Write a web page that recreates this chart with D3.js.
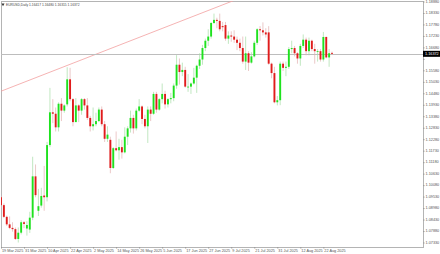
<!doctype html>
<html lang="en">
<head>
<meta charset="utf-8">
<script src="https://d3js.org/d3.v7.min.js"></script>
<style>
    body { margin: 0; background: #fff; }
    svg { display: block; }
    text { font-family: "Liberation Sans", Arial, sans-serif; }
</style>
</head>
<body>
<div id="chart"></div>
<script>
    // daily candles, 19 Mar 2025 .. 27 Aug 2025
    var opens = [1.0950,1.0912,1.0856,1.0820,1.0803,1.0797,1.0750,1.0780,1.0830,1.0800,
        1.0795,1.0852,1.1050,1.0885,1.0910,1.0958,1.0950,1.1200,1.1357,1.1350,
        1.1285,1.1398,1.1365,1.1395,1.1515,1.1420,1.1310,1.1390,1.1365,1.1420,
        1.1390,1.1330,1.1290,1.1300,1.1315,1.1370,1.1300,1.1230,1.1225,1.1090,
        1.1185,1.1175,1.1190,1.1165,1.1240,1.1280,1.1330,1.1280,1.1365,1.1385,
        1.1325,1.1290,1.1370,1.1350,1.1445,1.1370,1.1420,1.1445,1.1395,1.1420,
        1.1425,1.1485,1.1585,1.1550,1.1560,1.1480,1.1480,1.1495,1.1523,1.1580,
        1.1610,1.1665,1.1700,1.1720,1.1785,1.1800,1.1795,1.1770,1.1775,1.1710,
        1.1725,1.1720,1.1705,1.1690,1.1665,1.1600,1.1640,1.1595,1.1625,1.1690,
        1.1755,1.1750,1.1740,1.1740,1.1590,1.1545,1.1405,1.1415,1.1590,1.1570,
        1.1575,1.1660,1.1665,1.1640,1.1615,1.1675,1.1705,1.1650,1.1700,1.1660,
        1.1650,1.1650,1.1610,1.1718,1.1620,1.16417];
    var highs = [1.0958,1.0920,1.0862,1.0858,1.0830,1.0805,1.0805,1.0840,1.0836,1.0835,
        1.0880,1.1144,1.1107,1.0990,1.0995,1.1100,1.1215,1.1474,1.1420,1.1380,
        1.1405,1.1425,1.1395,1.1573,1.1570,1.1425,1.1425,1.1395,1.1425,1.1425,
        1.1425,1.1340,1.1380,1.1355,1.1380,1.1385,1.1315,1.1290,1.1240,1.1190,
        1.1265,1.1230,1.1225,1.1285,1.1290,1.1365,1.1345,1.1375,1.1420,1.1390,
        1.1345,1.1385,1.1385,1.1455,1.1455,1.1425,1.1495,1.1460,1.1425,1.1450,
        1.1495,1.1631,1.1615,1.1595,1.1575,1.1540,1.1500,1.1570,1.1585,1.1640,
        1.1680,1.1710,1.1755,1.1790,1.1830,1.1810,1.1830,1.1790,1.1790,1.1745,
        1.1745,1.1750,1.1720,1.1710,1.1720,1.1720,1.1650,1.1645,1.1700,1.1760,
        1.1770,1.1788,1.1760,1.1770,1.1595,1.1575,1.1435,1.1600,1.1600,1.1600,
        1.1670,1.1700,1.1675,1.1645,1.1685,1.1730,1.1715,1.1715,1.1705,1.1685,
        1.1660,1.1660,1.1742,1.1720,1.1660,1.16480];
    var lows = [1.0898,1.0850,1.0812,1.0797,1.0785,1.0745,1.0733,1.0772,1.0802,1.0766,
        1.0779,1.0840,1.0950,1.0860,1.0900,1.0885,1.0930,1.1190,1.1305,1.1265,
        1.1265,1.1315,1.1355,1.1385,1.1410,1.1290,1.1310,1.1310,1.1345,1.1370,
        1.1320,1.1265,1.1270,1.1290,1.1310,1.1290,1.1215,1.1215,1.1065,1.1085,
        1.1170,1.1130,1.1135,1.1160,1.1200,1.1260,1.1255,1.1270,1.1360,1.1300,
        1.1280,1.1210,1.1315,1.1345,1.1355,1.1365,1.1400,1.1375,1.1380,1.1400,
        1.1410,1.1470,1.1490,1.1530,1.1475,1.1455,1.1445,1.1490,1.1450,1.1565,
        1.1585,1.1650,1.1675,1.1710,1.1780,1.1760,1.1745,1.1745,1.1700,1.1685,
        1.1695,1.1690,1.1655,1.1650,1.1590,1.1560,1.1555,1.1590,1.1620,1.1680,
        1.1700,1.1725,1.1715,1.1585,1.1520,1.1400,1.1390,1.1391,1.1555,1.1530,
        1.1565,1.1640,1.1625,1.1590,1.1580,1.1665,1.1630,1.1630,1.1650,1.1590,
        1.1600,1.1600,1.1600,1.1615,1.1575,1.16315];
    var closes = [1.0912,1.0856,1.0820,1.0803,1.0797,1.0750,1.0780,1.0830,1.0822,1.0817,
        1.0852,1.1050,1.0960,1.0907,1.0956,1.0950,1.1200,1.1357,1.1350,1.1285,
        1.1398,1.1365,1.1390,1.1515,1.1420,1.1310,1.1390,1.1365,1.1420,1.1390,
        1.1330,1.1290,1.1300,1.1315,1.1370,1.1300,1.1230,1.1250,1.1090,1.1185,
        1.1175,1.1190,1.1165,1.1240,1.1280,1.1330,1.1280,1.1365,1.1385,1.1325,
        1.1290,1.1370,1.1350,1.1445,1.1370,1.1420,1.1445,1.1395,1.1420,1.1425,
        1.1485,1.1585,1.1550,1.1560,1.1480,1.1480,1.1495,1.1523,1.1580,1.1610,
        1.1665,1.1700,1.1720,1.1785,1.1800,1.1795,1.1755,1.1765,1.1710,1.1725,
        1.1720,1.1705,1.1690,1.1665,1.1600,1.1640,1.1595,1.1625,1.1690,1.1755,
        1.1750,1.1740,1.1730,1.1590,1.1545,1.1405,1.1415,1.1590,1.1570,1.1575,
        1.1660,1.1665,1.1640,1.1615,1.1675,1.1705,1.1650,1.1700,1.1660,1.1650,
        1.1650,1.1610,1.1718,1.1620,1.1640,1.16372];

    var xLabels = ["19 Mar 2025","31 Mar 2025","10 Apr 2025","22 Apr 2025","2 May 2025",
        "14 May 2025","26 May 2025","5 Jun 2025","17 Jun 2025","27 Jun 2025","9 Jul 2025",
        "21 Jul 2025","31 Jul 2025","12 Aug 2025","22 Aug 2025"];
    var labelEvery = 8;
    var yTicks = [1.18880,1.18330,1.17780,1.17230,1.16680,1.16130,1.15580,1.15030,1.14480,
        1.13930,1.13380,1.12830,1.12280,1.11730,1.11180,1.10630,1.10080,1.09530,1.08980,
        1.08430,1.07880,1.07330];
    var header = "EURUSD,Daily  1.16417 1.16480 1.16315 1.16372";
    // trend line anchors (bar index, price)
    var trendBars = [0, 80];
    var trendPrices = [1.1458, 1.1888];

    var W = 440, H = 254;
    var plot = { left: 1, right: 423, top: 1, bottom: 247 };
    var FS = 0.38; // tiny screen font: draw at 10px and scale down

    var svg = d3.select("#chart").append("svg")
        .attr("width", W).attr("height", H);

    function label(parent, px, py, str, fill, size) {
        return parent.append("text")
            .attr("transform", "translate(" + px + "," + py + ") scale(" + (size || FS) + ")")
            .attr("font-size", 10)
            .attr("fill", fill)
            .text(str);
    }

    var x = d3.scaleLinear()
        .domain([0, closes.length - 1])
        .range([1, 332]);
    var y = d3.scaleLinear()
        .domain([yTicks[yTicks.length - 1], yTicks[0]])
        .range([242.5, 1.5]);

    svg.append("defs").append("clipPath").attr("id", "clip")
        .append("rect")
        .attr("x", plot.left).attr("y", plot.top)
        .attr("width", plot.right - plot.left).attr("height", plot.bottom - plot.top);

    // frame
    svg.append("rect")
        .attr("x", plot.left + 0.5).attr("y", plot.top + 0.5)
        .attr("width", plot.right - plot.left).attr("height", plot.bottom - plot.top)
        .attr("fill", "none").attr("stroke", "#b4b4b4").attr("stroke-width", 1);

    var g = svg.append("g").attr("clip-path", "url(#clip)");

    // trend line, extended like a ray
    var slope = (trendPrices[1] - trendPrices[0]) / (trendBars[1] - trendBars[0]);
    var tl = [-5, 140].map(function (b) { return [b, trendPrices[0] + (b - trendBars[0]) * slope]; });
    g.append("path")
        .datum(tl)
        .attr("fill", "none")
        .attr("stroke", "#f2a0a0")
        .attr("stroke-width", 0.8)
        .attr("d", d3.line().x(function (d) { return x(d[0]); }).y(function (d) { return y(d[1]); }));

    // current price line
    var last = closes[closes.length - 1];
    g.append("line")
        .attr("x1", plot.left).attr("x2", plot.right)
        .attr("y1", Math.round(y(last)) + 0.5).attr("y2", Math.round(y(last)) + 0.5)
        .attr("stroke", "#bdbdbd").attr("stroke-width", 1);

    var bars = d3.range(closes.length).map(function (i) {
        return { i: i, o: opens[i], h: highs[i], l: lows[i], c: closes[i] };
    });
    var up = "#1ee21e", down = "#e01c1c";

    g.selectAll("line.wick").data(bars).enter().append("line")
        .attr("class", "wick")
        .attr("x1", function (d) { return x(d.i); })
        .attr("x2", function (d) { return x(d.i); })
        .attr("y1", function (d) { return y(d.h); })
        .attr("y2", function (d) { return y(d.l); })
        .attr("stroke", function (d) { return d.c >= d.o ? "#a6dca6" : "#e2b0b0"; })
        .attr("stroke-width", 0.7);

    g.selectAll("rect.body").data(bars).enter().append("rect")
        .attr("class", "body")
        .attr("x", function (d) { return x(d.i) - 0.95; })
        .attr("width", 1.9)
        .attr("y", function (d) { return y(Math.max(d.o, d.c)); })
        .attr("height", function (d) { return Math.max(0.8, Math.abs(y(d.o) - y(d.c))); })
        .attr("fill", function (d) { return d.c >= d.o ? up : down; });

    // price axis: ticks from d3, labels drawn small
    var yAxis = svg.append("g")
        .attr("transform", "translate(" + plot.right + ",0)")
        .call(d3.axisRight(y).tickValues(yTicks).tickSize(1.5).tickFormat(""));
    yAxis.select(".domain").remove();
    yAxis.selectAll("line").attr("stroke", "#999");
    yTicks.forEach(function (v) {
        if (Math.abs(y(v) - y(last)) < 6) return;
        label(svg, plot.right + 2.5, y(v) + 1.3, d3.format(".5f")(v), "#555");
    });

    // current price tag
    svg.append("rect")
        .attr("x", plot.right).attr("y", y(last) - 3)
        .attr("width", 17).attr("height", 6).attr("fill", "#000");
    label(svg, plot.right + 2, y(last) + 1.3, d3.format(".5f")(last), "#fff");

    // time axis
    var tickBars = xLabels.map(function (s, k) { return k * labelEvery; });
    var xAxis = svg.append("g")
        .attr("transform", "translate(0," + plot.bottom + ")")
        .call(d3.axisBottom(x).tickValues(tickBars).tickSize(1.5).tickFormat(""));
    xAxis.select(".domain").remove();
    xAxis.selectAll("line").attr("stroke", "#999");
    xLabels.forEach(function (s, k) {
        label(svg, x(tickBars[k]) + 1, plot.bottom + 5.2, s, "#555");
    });

    // header
    svg.append("path")
        .attr("d", d3.symbol().type(d3.symbolTriangle).size(4)())
        .attr("transform", "translate(3,4.5) rotate(180)")
        .attr("fill", "#333");
    label(svg, 6, 5.8, header, "#444", 0.33);
</script>
</body>
</html>
